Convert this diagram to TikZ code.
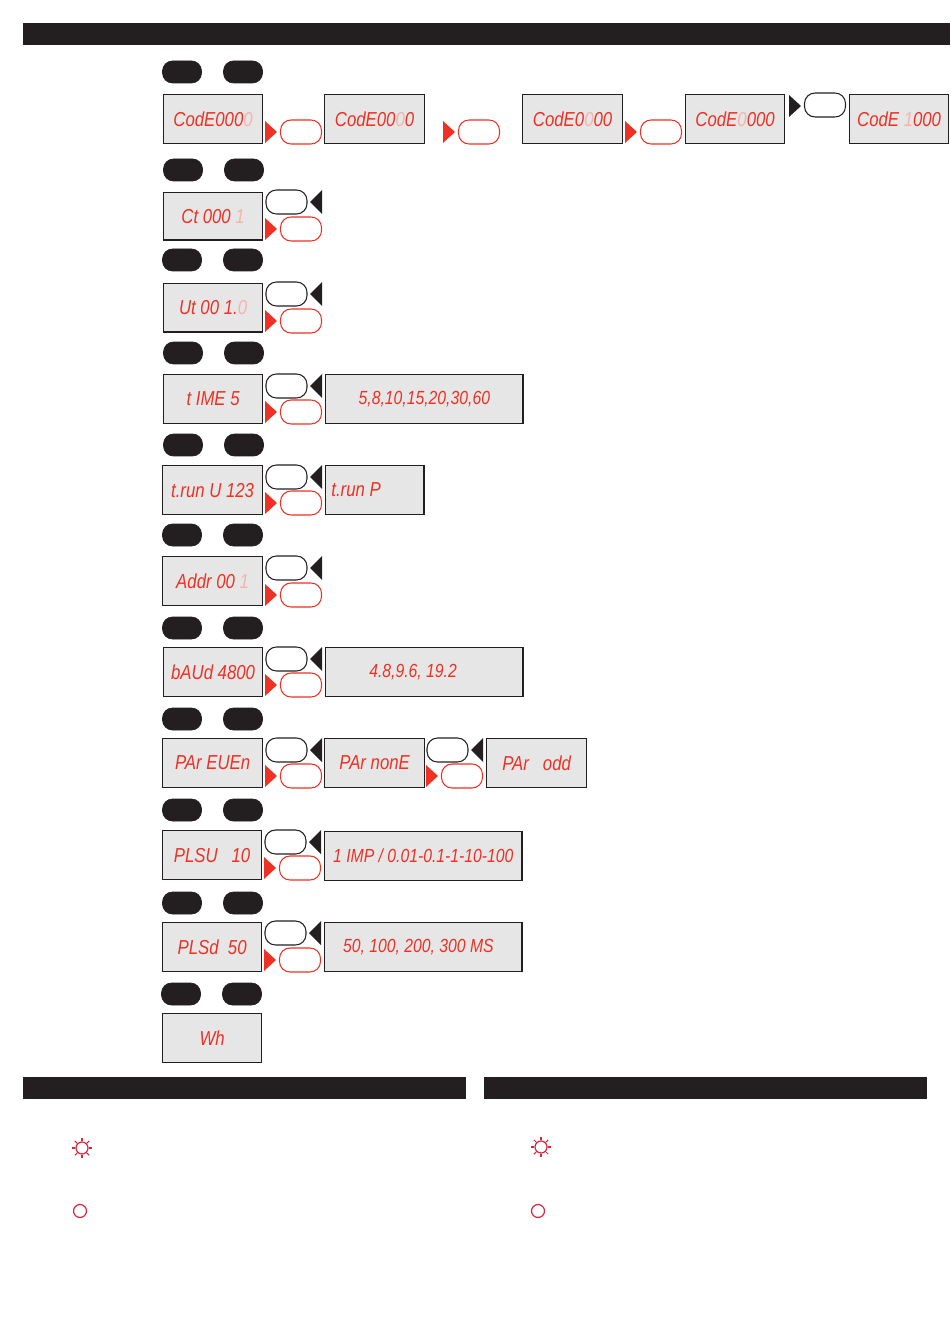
\documentclass[tikz,border=0pt]{standalone}
\usepackage{fontspec}
\setmainfont[FakeStretch=0.83]{Liberation Sans}
\definecolor{lcdred}{HTML}{EE3124}
\definecolor{lcdpale}{HTML}{F2B5AC}
\definecolor{lcdgrey}{HTML}{E6E6E6}
\definecolor{barblack}{HTML}{231F20}
\definecolor{ledred}{HTML}{D9263A}
\newcommand{\off}[1]{\textcolor{lcdpale}{#1}}
\tikzset{
  lcdbox/.style={draw=barblack, line width=0.7pt, fill=lcdgrey, anchor=north west, inner sep=0pt,
    minimum width=1.98cm, minimum height=0.98cm, text=lcdred, font=\fontsize{11.5}{12}\selectfont\itshape},
  longtext/.style={font=\fontsize{10.8}{12}\selectfont\itshape},
  softkey/.style={fill=barblack, draw=barblack, rounded corners=0.2cm, inner sep=0pt,
    minimum width=0.78cm, minimum height=0.44cm},
  upkey/.style={draw=barblack, line width=0.6pt, fill=white, rounded corners=0.21cm, inner sep=0pt,
    minimum width=0.82cm, minimum height=0.48cm},
  downkey/.style={draw=lcdred, line width=0.6pt, fill=white, rounded corners=0.21cm, inner sep=0pt,
    minimum width=0.82cm, minimum height=0.48cm},
  titlebar/.style={fill=barblack, draw=none, anchor=north west, inner sep=0pt, minimum height=0.44cm},
  ledmark/.style={draw=ledred, line width=0.7pt, circle, inner sep=0pt, minimum size=0.26cm},
}
\begin{document}
\begin{tikzpicture}[x=0.02cm, y=-0.02cm]
  \useasboundingbox (0,0) rectangle (950,1344);
  % bars
  \node[titlebar, minimum width=18.54cm] (top) at (23,23) {};
  \node[titlebar, minimum width=8.86cm] (barl) at (23,1077) {};
  \node[titlebar, minimum width=8.86cm] (barr) at (484,1077) {};
  % black keys above every display
  \foreach \row/\xa/\ya in {1/182/72, 2/183/170, 3/182/260, 4/183/353, 5/183/445, 6/182/535,
      7/182/628, 8/182/719, 9/182/810, 10/182/903, 11/181/994} {
    \node[softkey] (sa\row) at (\xa,\ya) {};
    \node[softkey] (sb\row) at (\xa+61,\ya) {};
  }
  % displays
  \node[lcdbox] (d1a) at (163,94) {CodE000\off{0}};
  \node[lcdbox, minimum width=2cm] (d1b) at (324,94) {CodE00\off{0}0};
  \node[lcdbox, minimum width=2cm] (d1c) at (522,94) {CodE0\off{0}00};
  \node[lcdbox] (d1d) at (685,94) {CodE\off{0}000};
  \node[lcdbox] (d1e) at (849,94) {CodE \off{1}000};
  \node[lcdbox, minimum height=0.95cm] (d2) at (163,192) {Ct 000 \off{1}};
  \node[lcdbox, minimum height=0.97cm] (d3) at (163,283) {Ut 00 1.\off{0}};
  \node[lcdbox] (d4a) at (163,374) {t IME 5};
  \node[lcdbox, longtext, minimum width=3.95cm] (d4b) at (325,374) {5,8,10,15,20,30,60};
  \node[lcdbox, minimum width=2cm] (d5a) at (162,465) {t.run U 123};
  \node[lcdbox, minimum width=1.97cm] (d5b) at (325,465) {t.run P\hspace*{0.75cm}};
  \node[lcdbox, minimum width=2cm] (d6) at (162,556) {Addr 00 \off{1}};
  \node[lcdbox] (d7a) at (163,647) {bAUd 4800};
  \node[lcdbox, longtext, minimum width=3.95cm] (d7b) at (325,647) {4.8,9.6, 19.2\hspace*{0.45cm}};
  \node[lcdbox, minimum width=2cm] (d8a) at (162,738) {PAr EUEn};
  \node[lcdbox, minimum width=2cm] (d8b) at (324,738) {PAr nonE};
  \node[lcdbox, minimum width=2cm] (d8c) at (486,738) {PAr\ \ \ odd};
  \node[lcdbox] (d9a) at (162,830) {PLSU\ \ \ 10};
  \node[lcdbox, longtext, minimum width=3.95cm] (d9b) at (324,831) {1 IMP / 0.01-0.1-1-10-100};
  \node[lcdbox] (d10a) at (162,922) {PLSd\ \ 50};
  \node[lcdbox, longtext, minimum width=3.95cm] (d10b) at (324,922) {50, 100, 200, 300 MS\hspace*{0.2cm}};
  \node[lcdbox, minimum height=0.97cm] (d11) at (162,1013) {Wh};
  % key pairs beside the displays
  \foreach \n/\xk/\yu/\yd in {2/266/202/229, 3/266/294/321, 4/266/386/412, 5/266/477/503,
      6/266/568/595, 7/266/659/685, 8/266/750/776, 8b/427/750/776, 9/265/842/868, 10/265/933/960} {
    \node[upkey] (u\n) at (\xk+20.5,\yu) {};
    \node[downkey] (r\n) at (\xk+35,\yd) {};
    \fill[barblack] (\xk+56,\yu-12) -- (\xk+44,\yu) -- (\xk+56,\yu+12) -- cycle;
    \fill[lcdred] (\xk-1,\yd-11) -- (\xk+11,\yd) -- (\xk-1,\yd+11) -- cycle;
  }
  % code entry
  \foreach \n/\xk in {1/265, 2/443, 3/625} {
    \node[downkey] (c\n) at (\xk+36,132) {};
    \fill[lcdred] (\xk,121) -- (\xk+12,132) -- (\xk,143) -- cycle;
  }
  \node[upkey] (c4) at (825,105) {};
  \fill[barblack] (789,95) -- (801,106) -- (789,117) -- cycle;
  % leds
  \foreach \n/\xs/\ys in {1/82/1148, 2/541/1147} {
    \node[ledmark, minimum size=0.24cm] (sun\n) at (\xs,\ys) {};
    \foreach \a in {0,45,...,315}
      \draw[ledred, line width=0.6pt] (sun\n.\a) -- ++(\a:0.07cm);
  }
  \node[ledmark] (ring1) at (80,1211) {};
  \node[ledmark] (ring2) at (538,1211) {};
\end{tikzpicture}
\end{document}
